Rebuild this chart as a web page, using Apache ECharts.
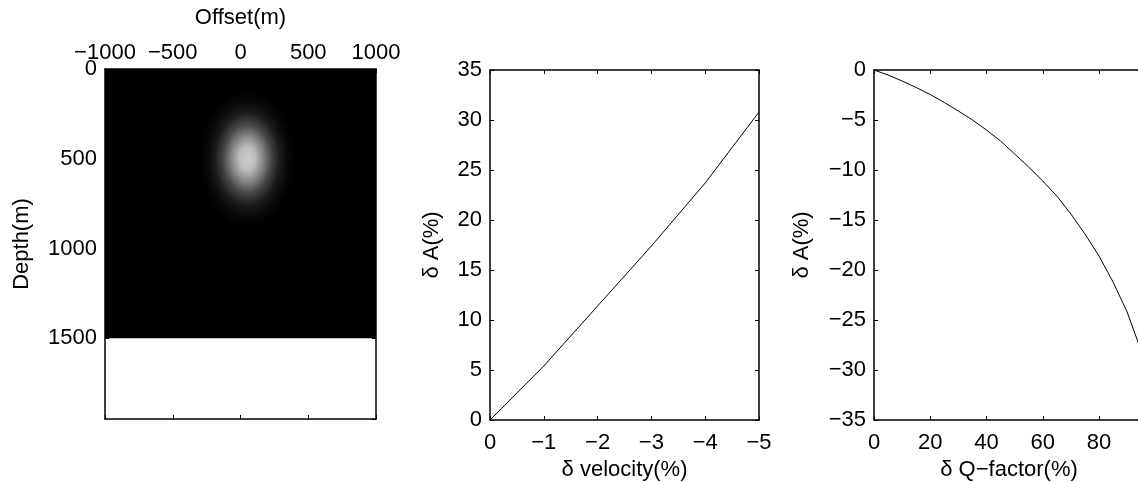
<!DOCTYPE html>
<html>
<head>
<meta charset="utf-8">
<title>Amplitude sensitivity</title>
<script src="https://cdn.jsdelivr.net/npm/echarts@6/dist/echarts.min.js"></script>
<style>
  html, body { margin: 0; padding: 0; background: #fff; }
  #chart { width: 1138px; height: 482px; }
</style>
</head>
<body>
<div id="chart"></div>
<script>
// left panel: model with bright anomaly
const offsetRange = [-1000, 1000];
const depthRange = [0, 1950];
const modelOffset = [-1000, 1000];   // extent of the black model image
const modelDepth = [0, 1500];
const anomalyCenter = [50, 500];     // offset, depth of the bright spot

// middle panel: amplitude change vs velocity change
const velocityChange = [0, -1, -2, -3, -4, -5];
const ampVelocity = [0, 5.4, 11.4, 17.4, 23.7, 30.8];

// right panel: amplitude change vs Q change
const qChange = [0, 5, 10, 15, 20, 25, 30, 35, 40, 45, 50, 55, 60, 65, 70, 75, 80, 85, 90, 94, 96];
const ampQ = [0, -0.5, -1.1, -1.75, -2.45, -3.25, -4.1, -5.0, -6.0, -7.1, -8.4, -9.7, -11.1,
    -12.6, -14.4, -16.4, -18.6, -21.2, -24.2, -27.3, -29.0];

const FONT = '"Liberation Sans", Arial, Helvetica, sans-serif';
const FS = 22;
const minus = v => String(v).replace('-', '\u2212');
const zip = (xs, ys) => xs.map((x, i) => [x, ys[i]]);

function axis(o) {
    return Object.assign({
        type: 'value',
        splitLine: { show: false },
        axisLine: { show: true, onZero: false, lineStyle: { color: '#000', width: 1.5 } },
        axisTick: { show: true, inside: true, length: 4, lineStyle: { color: '#000', width: 1 } },
        axisLabel: { show: o.labels !== false, color: '#000', fontFamily: FONT, fontSize: FS,
            margin: o.margin || 8, formatter: minus, showMaxLabel: o.showMax !== false },
        nameLocation: 'middle',
        nameTextStyle: { color: '#000', fontFamily: FONT, fontSize: FS }
    }, o);
}

let myChart = echarts.init(document.getElementById('chart'));

myChart.setOption({
    backgroundColor: '#fff',
    animation: false,
    grid: [
        { left: 105, top: 69, width: 271, height: 350, outerBoundsMode: 'none' },
        { left: 490, top: 70, width: 269, height: 350, outerBoundsMode: 'none' },
        { left: 874, top: 70, width: 270, height: 350, outerBoundsMode: 'none' }
    ],
    xAxis: [
        axis({ gridIndex: 0, position: 'top', min: offsetRange[0], max: offsetRange[1], interval: 500,
            margin: 5, name: 'Offset(m)', nameGap: 40 }),
        axis({ gridIndex: 0, position: 'bottom', min: offsetRange[0], max: offsetRange[1], interval: 500, labels: false }),
        axis({ gridIndex: 1, position: 'bottom', inverse: true, min: -5, max: 0, interval: 1,
            margin: 12, name: 'δ velocity(%)', nameGap: 39 }),
        axis({ gridIndex: 1, position: 'top', inverse: true, min: -5, max: 0, interval: 1, labels: false }),
        axis({ gridIndex: 2, position: 'bottom', min: 0, max: 96, interval: 20, showMax: false,
            margin: 12, name: 'δ Q\u2212factor(%)', nameGap: 39 }),
        axis({ gridIndex: 2, position: 'top', min: 0, max: 96, interval: 20, labels: false })
    ],
    yAxis: [
        axis({ gridIndex: 0, position: 'left', inverse: true, min: depthRange[0], max: depthRange[1], interval: 500,
            showMax: false, name: 'Depth(m)', nameGap: 72 }),
        axis({ gridIndex: 0, position: 'right', inverse: true, min: depthRange[0], max: depthRange[1], interval: 500, labels: false }),
        axis({ gridIndex: 1, position: 'left', min: 0, max: 35, interval: 5, name: 'δ A(%)', nameGap: 47 }),
        axis({ gridIndex: 1, position: 'right', min: 0, max: 35, interval: 5, labels: false }),
        axis({ gridIndex: 2, position: 'left', min: -35, max: 0, interval: 5, name: 'δ A(%)', nameGap: 61 }),
        axis({ gridIndex: 2, position: 'right', min: -35, max: 0, interval: 5, labels: false })
    ],
    series: [
        {
            type: 'scatter',
            xAxisIndex: 0,
            yAxisIndex: 0,
            silent: true,
            data: [anomalyCenter],
            symbol: 'circle',
            symbolSize: [96, 138],
            itemStyle: {
                color: {
                    type: 'radial', x: 0.5, y: 0.5, r: 0.5,
                    colorStops: [
                        { offset: 0, color: '#ffffff' },
                        { offset: 0.17, color: '#ebebeb' },
                        { offset: 0.33, color: '#a6a6a6' },
                        { offset: 0.5, color: '#585858' },
                        { offset: 0.67, color: '#232323' },
                        { offset: 0.83, color: '#0b0b0b' },
                        { offset: 1, color: '#000000' }
                    ]
                }
            },
            markArea: {
                silent: true,
                itemStyle: { color: '#000', opacity: 1 },
                data: [[
                    { coord: [modelOffset[0], modelDepth[0]] },
                    { coord: [modelOffset[1], modelDepth[1]] }
                ]]
            }
        },
        {
            type: 'line',
            xAxisIndex: 2,
            yAxisIndex: 2,
            silent: true,
            showSymbol: false,
            data: zip(velocityChange, ampVelocity),
            lineStyle: { color: '#000', width: 1 }
        },
        {
            type: 'line',
            xAxisIndex: 4,
            yAxisIndex: 4,
            silent: true,
            showSymbol: false,
            data: zip(qChange, ampQ),
            lineStyle: { color: '#000', width: 1 }
        }
    ]
});
</script>
</body>
</html>
